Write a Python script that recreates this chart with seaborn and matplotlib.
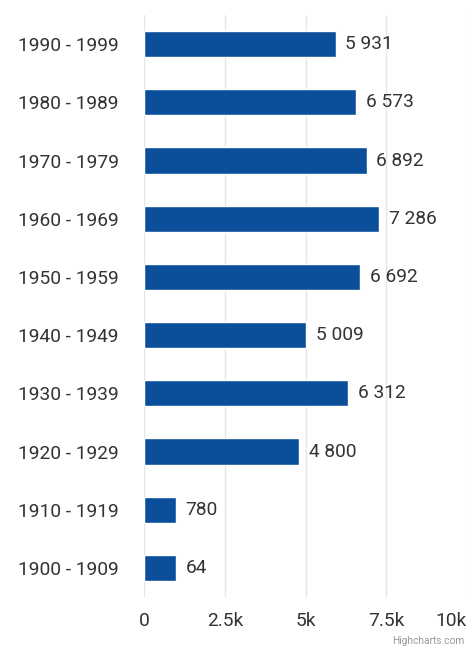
import matplotlib
matplotlib.use("Agg")
import matplotlib.pyplot as plt
import numpy as np
import pandas as pd
import seaborn as sns

decades = ["1990 - 1999", "1980 - 1989", "1970 - 1979", "1960 - 1969", "1950 - 1959",
           "1940 - 1949", "1930 - 1939", "1920 - 1929", "1910 - 1919", "1900 - 1909"]
counts = [5931, 6573, 6892, 7286, 6692, 5009, 6312, 4800, 780, 64]
x_ticks = [0, 2500, 5000, 7500, 10000]
x_labels = ["0", "2.5k", "5k", "7.5k", "10k"]

bar_color = "#0b4f9b"
min_len = 990  # highcharts-like minimum bar length
fs = 13.8

df = pd.DataFrame({"decade": decades, "count": counts})
df["shown"] = np.maximum(df["count"], min_len)

sns.set_theme(style="white")
plt.rcParams["font.family"] = ["Roboto", "DejaVu Sans"]

fig = plt.figure(figsize=(4.69, 6.54), dpi=100)
ax = fig.add_axes([0.307, 0.087, 0.689, 0.890])

sns.barplot(data=df, x="shown", y="decade", order=decades, color=bar_color,
            width=0.45, saturation=1, ax=ax, orient="h")

for i, v in enumerate(counts):
    ax.annotate(f"{v:,}".replace(",", " "), (max(v, min_len), i),
                xytext=(7, 0), textcoords="offset points",
                va="center", ha="left", fontsize=fs, color="#333333")

ax.set_xlim(0, 10000)
ax.set_xticks(x_ticks)
ax.set_xticklabels(x_labels)
ax.set_xlabel("")
ax.set_ylabel("")
ax.grid(axis="x", color="#e6e6e6", linewidth=1)
ax.set_axisbelow(True)
for s in ax.spines.values():
    s.set_visible(False)
ax.tick_params(axis="x", length=0, pad=11, labelsize=fs, labelcolor="#333333")
ax.tick_params(axis="y", length=0, pad=18, labelsize=fs, labelcolor="#333333")
ax.get_xticklabels()[-1].set_horizontalalignment("right")

fig.text(0.991, 0.012, "Highcharts.com", ha="right", va="bottom",
         fontsize=7.3, color="#999999")

fig.savefig("out.png", dpi=100)
